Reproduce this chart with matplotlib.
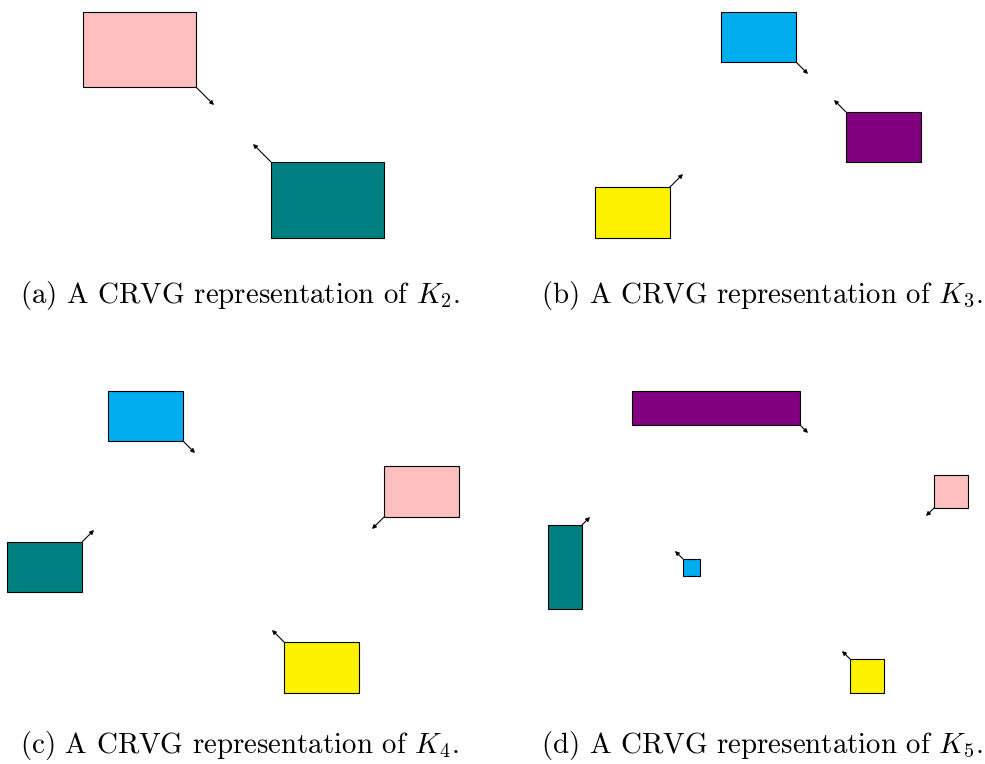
import matplotlib
matplotlib.use('Agg')
import matplotlib.pyplot as plt
from matplotlib.patches import Rectangle

plt.rcParams['mathtext.fontset'] = 'cm'
plt.rcParams['font.family'] = ['cmr10', 'DejaVu Serif']
plt.rcParams['axes.unicode_minus'] = False

PINK = '#ffbfbf'
TEAL = '#008080'
CYAN = '#00adef'
PURPLE = '#800080'
YELLOW = '#fff200'

# rectangles: left, top, width, height (pixel-like units, y grows downward)
rect_x = [83, 271, 721, 846, 595, 108, 384, 7, 284, 632, 934, 548, 683, 850]
rect_y = [12, 162, 12, 112, 187, 391, 466, 542, 642, 391, 475, 525, 559, 659]
rect_w = [113, 113, 75, 75, 75, 75, 75, 75, 75, 168, 34, 34, 17, 34]
rect_h = [75, 76, 50, 50, 51, 50, 51, 50, 51, 34, 33, 84, 17, 34]
rect_c = [PINK, TEAL, CYAN, PURPLE, YELLOW, CYAN, PINK, TEAL, YELLOW,
          PURPLE, PINK, TEAL, CYAN, YELLOW]

# arrows: tail (rectangle corner) -> head
arr_x0 = [196, 271, 796, 846, 670, 183, 384, 82, 284, 800, 934, 582, 683, 850]
arr_y0 = [87, 162, 62, 112, 187, 441, 517, 542, 642, 425, 508, 525, 559, 659]
arr_x1 = [214, 253, 808, 834, 683, 195, 372, 94, 272, 808, 926, 590, 675, 842]
arr_y1 = [105, 144, 74, 100, 174, 453, 529, 530, 630, 433, 516, 517, 551, 651]

captions = ['(a) A CRVG representation of $K_2$.',
            '(b) A CRVG representation of $K_3$.',
            '(c) A CRVG representation of $K_4$.',
            '(d) A CRVG representation of $K_5$.']
cap_x = [20, 541, 20, 541]
cap_y = [295, 295, 746, 746]

fig = plt.figure(figsize=(9.85, 7.64), dpi=100)
ax = fig.add_axes([0, 0, 1, 1])
ax.set_xlim(0, 985)
ax.set_ylim(764, 0)
ax.axis('off')

for i in range(len(rect_x)):
    ax.add_patch(Rectangle((rect_x[i], rect_y[i]), rect_w[i], rect_h[i],
                           facecolor=rect_c[i], edgecolor='black', lw=0.8))

for i in range(len(arr_x0)):
    ax.annotate('', xy=(arr_x1[i], arr_y1[i]), xytext=(arr_x0[i], arr_y0[i]),
                arrowprops=dict(arrowstyle='-|>', color='black', lw=0.8,
                                mutation_scale=6, shrinkA=0, shrinkB=0))

for i in range(len(captions)):
    ax.text(cap_x[i], cap_y[i], captions[i], ha='left', va='center',
            fontsize=20.8, color='black')

fig.savefig('out.png', dpi=100)
